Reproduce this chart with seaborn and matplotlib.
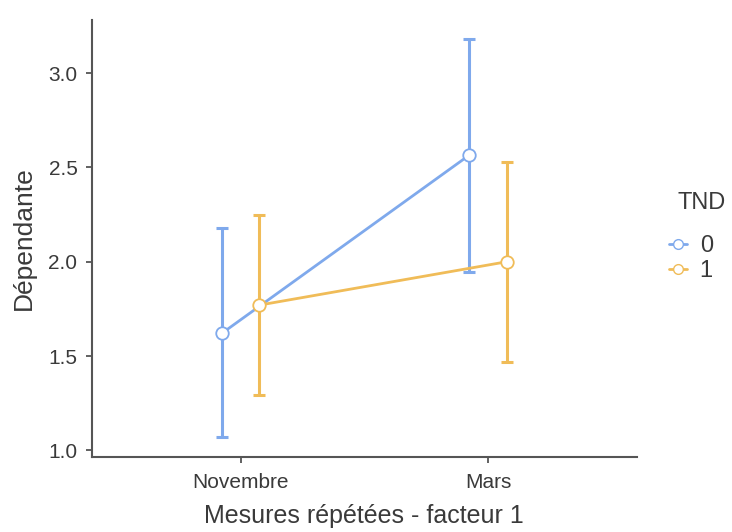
import numpy as np
import pandas as pd
import matplotlib
matplotlib.use('Agg')
import matplotlib.pyplot as plt
import seaborn as sns
from matplotlib.lines import Line2D

# données
mesures = ['Novembre', 'Mars']
groupes = ['0', '1']
moy_0 = [1.62, 2.565]
bas_0 = [1.07, 1.945]
haut_0 = [2.18, 3.18]
moy_1 = [1.77, 2.00]
bas_1 = [1.295, 1.47]
haut_1 = [2.25, 2.53]

couleurs = {'0': '#7FA9EC', '1': '#F0BC58'}
decal = {'0': -0.076, '1': 0.076}

df = pd.DataFrame({
    'mesure': mesures * 2,
    'TND': ['0', '0', '1', '1'],
    'moy': moy_0 + moy_1,
    'bas': bas_0 + bas_1,
    'haut': haut_0 + haut_1,
})
df['x'] = [mesures.index(m) for m in df['mesure']] + df['TND'].map(decal)

sns.set_style('white')
plt.rcParams['font.family'] = ['Liberation Sans', 'DejaVu Sans']
gris = '#3a3a3a'

fig = plt.figure(figsize=(7.32, 5.32), dpi=100)
ax = fig.add_axes([0.1257, 0.141, 0.744, 0.821])

for g in groupes:
    d = df[df['TND'] == g]
    ax.errorbar(d['x'], d['moy'], yerr=[d['moy'] - d['bas'], d['haut'] - d['moy']],
                fmt='none', ecolor=couleurs[g], elinewidth=2.2, capsize=4.6, capthick=2.2, zorder=2)

sns.lineplot(data=df, x='x', y='moy', hue='TND', palette=couleurs, marker='o',
             markersize=9, markerfacecolor='white', markeredgewidth=1.3,
             linewidth=2, ax=ax, zorder=3, legend=False)
# contour des marqueurs dans la couleur du groupe
for line, g in zip(ax.get_lines()[-2:], groupes):
    line.set_markeredgecolor(couleurs[g])

ax.set_xlim(-0.6, 1.6)
ax.set_ylim(0.965, 3.28)
ax.set_xticks([0, 1])
ax.set_xticklabels(mesures, fontsize=15, color=gris)
ax.set_yticks([1.0, 1.5, 2.0, 2.5, 3.0])
ax.set_yticklabels(['1.0', '1.5', '2.0', '2.5', '3.0'], fontsize=15, color=gris)
ax.set_xlabel('Mesures répétées - facteur 1', fontsize=18, color=gris, labelpad=9)
ax.set_ylabel('Dépendante', fontsize=19, color=gris, labelpad=9)
ax.tick_params(axis='both', length=4.5, width=1.3, color='#555555', bottom=True, left=True, pad=6)
ax.tick_params(axis='x', pad=7)
sns.despine(ax=ax)
for s in ['left', 'bottom']:
    ax.spines[s].set_color('#555555')
    ax.spines[s].set_linewidth(1.5)

# légende
fig.text(678 / 732, 1 - 203 / 532, 'TND', fontsize=17, color=gris, ha='left', va='center')
poignees = [Line2D([0], [0], color=couleurs[g], marker='o', markerfacecolor='white',
                   markeredgecolor=couleurs[g], markersize=7, linewidth=2) for g in groupes]
leg = fig.legend(poignees, groupes, loc='upper left', bbox_to_anchor=(0.914, 0.558),
                 frameon=False, fontsize=17, handlelength=0.75, borderpad=0, borderaxespad=0,
                 handletextpad=0.55, labelspacing=0.13)
for t in leg.get_texts():
    t.set_color(gris)

fig.savefig('out.png', dpi=100)
